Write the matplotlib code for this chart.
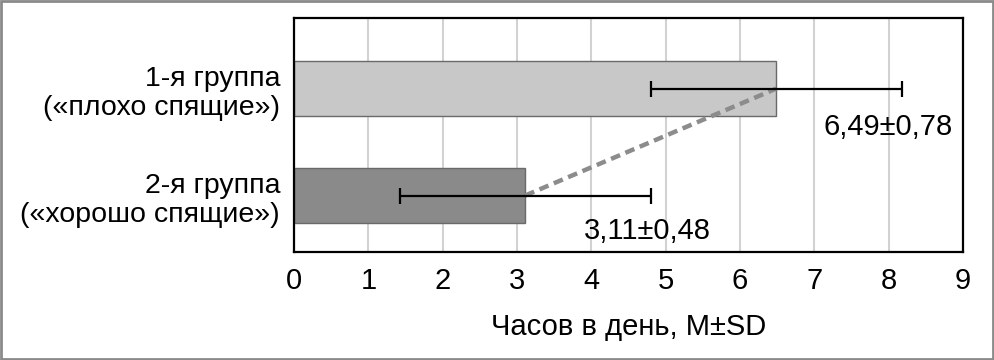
import matplotlib
matplotlib.use("Agg")
import matplotlib.pyplot as plt
from matplotlib.patches import Rectangle

groups = ["2-я группа\n(«хорошо спящие»)", "1-я группа\n(«плохо спящие»)"]
means = [3.11, 6.49]
sd_drawn = [1.69, 1.69]
value_labels = ["3,11±0,48", "6,49±0,78"]
bar_colors = ["#8a8a8a", "#c8c8c8"]
xticks = list(range(0, 10))

plt.rcParams["font.family"] = ["Liberation Sans", "DejaVu Sans"]

fig = plt.figure(figsize=(9.95, 3.6), dpi=100)
ax = fig.add_axes([294 / 995, 1 - 252 / 360, 669 / 995, 234 / 360])

ypos = [0, 1]
ax.barh(ypos, means, height=0.51, color=bar_colors, edgecolor="#6a6a6a",
        linewidth=1.0, zorder=2)
ax.plot(means, ypos, color="#8c8c8c", linestyle=(0, (2.2, 1.3)), linewidth=3.2, zorder=3)
ax.errorbar(means, ypos, xerr=sd_drawn, fmt="none", ecolor="black",
            elinewidth=1.6, capsize=5.5, capthick=1.6, zorder=4)

ax.text(means[1] + 1.5, ypos[1] - 0.36, value_labels[1], ha="center", va="center",
        fontsize=21, zorder=5)
ax.text(means[0] + 1.65, ypos[0] - 0.33, value_labels[0], ha="center", va="center",
        fontsize=21, zorder=5)

ax.set_xlim(0, 9)
ax.set_ylim(-0.528, 1.659)
ax.set_xticks(xticks)
ax.set_xticklabels([str(t) for t in xticks], fontsize=21)
ax.set_yticks(ypos)
ax.set_yticklabels(groups, fontsize=20.5, multialignment="right", linespacing=1.15)
ax.tick_params(axis="y", length=0, pad=10)
ax.tick_params(axis="x", length=0, pad=11)
ax.grid(axis="x", color="#d2d2d2", linewidth=1.5, zorder=0)
ax.set_axisbelow(True)
for s in ax.spines.values():
    s.set_color("black")
    s.set_linewidth(1.6)
ax.set_xlabel("Часов в день, M±SD", fontsize=21, labelpad=13)

fig.patches.append(Rectangle((0.001, 0.002), 0.997, 0.995, transform=fig.transFigure,
                             fill=False, edgecolor="#8a8a8a", linewidth=2.0))

fig.savefig("out.png", dpi=100)
